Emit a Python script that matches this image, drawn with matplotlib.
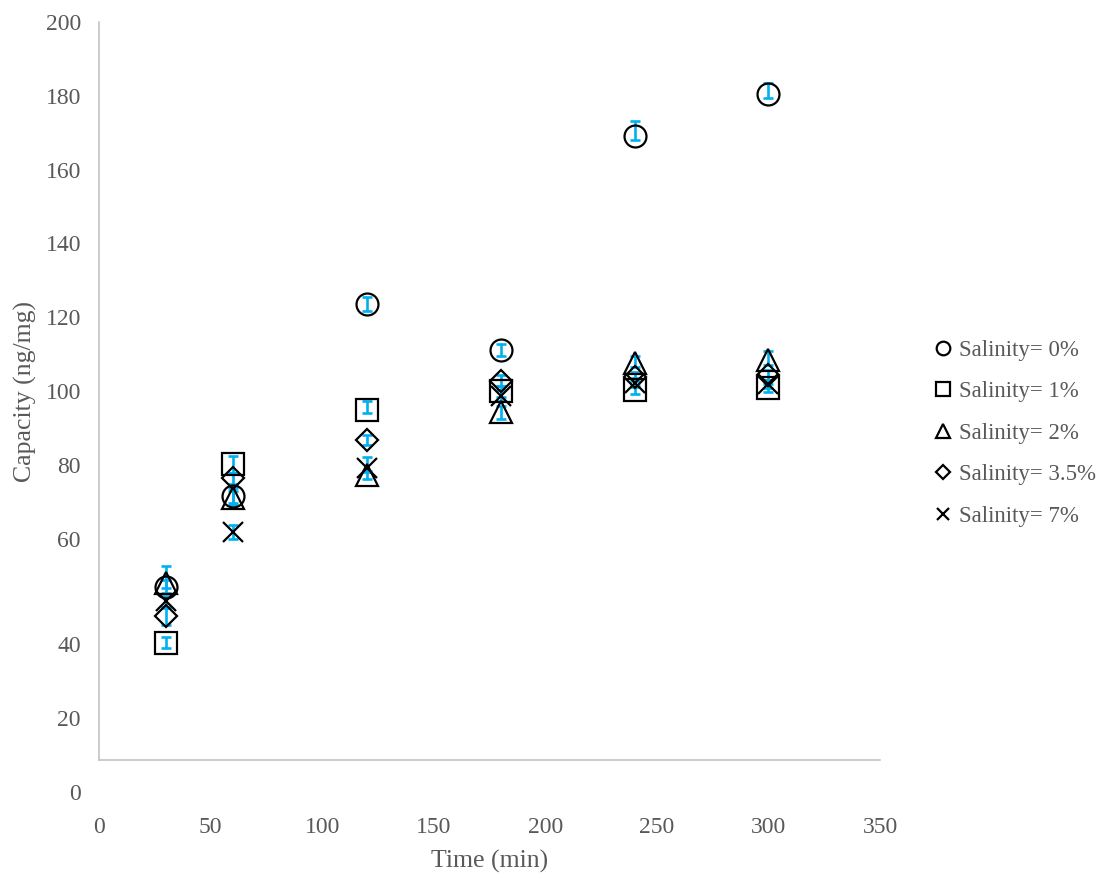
import numpy as np
import matplotlib
matplotlib.use('Agg')
import matplotlib.pyplot as plt
from matplotlib.transforms import ScaledTranslation, blended_transform_factory

# adsorption capacity vs contact time at several salinities
time = [30, 60, 120, 180, 240, 300]

cap_0 = [47.0, 71.6, 123.6, 111.1, 169.0, 180.4]
cap_1 = [31.8, 80.1, 94.9, 99.9, 100.4, 100.7]
cap_2 = [48.1, 71.0, 77.2, 94.2, 107.7, 108.3]
cap_35 = [38.9, 76.3, 86.7, 102.8, 103.9, 104.3]
cap_7 = [43.0, 61.8, 79.1, 98.7, 102.2, 101.9]

# error bars: (below, above)
err_0 = ([1.8, 2.0, 1.8, 1.6, 1.0, 1.1], [1.8, 2.0, 1.8, 1.6, 4.2, 3.1])
err_1 = ([1.4, 2.4, 0.9, 1.5, 1.2, 0.9], [1.4, 2.4, 2.4, 1.5, 1.2, 1.2])
err_2 = ([1.5, 2.0, 1.0, 1.8, 1.3, 1.3], [4.6, 2.0, 1.0, 1.8, 1.8, 2.5])
err_35 = ([2.2, 1.5, 1.3, 1.5, 1.3, 1.3], [2.2, 1.5, 1.3, 1.5, 1.3, 1.3])
err_7 = ([1.5, 1.9, 1.0, 1.5, 1.2, 1.2], [1.5, 1.9, 3.1, 1.5, 1.2, 1.2])

labels = ['Salinity= 0%', 'Salinity= 1%', 'Salinity= 2%',
          'Salinity= 3.5%', 'Salinity= 7%']
y_ticks = [60, 80, 100, 120, 140, 160, 180, 200]
low_ticks = [40, 20, 0]
x_ticks = [0, 50, 100, 150, 200, 250, 300, 350]

series = [cap_0, cap_1, cap_2, cap_35, cap_7]
errors = [err_0, err_1, err_2, err_35, err_7]
markers = ['o', 's', '^', 'D', 'x']
sizes = [15.8, 15.8, 15.8, 11.2, 15.0]

grey = '#595959'
axis_grey = '#BFBFBF'
plt.rcParams['font.family'] = ['Liberation Serif', 'DejaVu Serif']

fig = plt.figure(figsize=(11, 8.75), dpi=100)
ax = fig.add_axes([99 / 1100, 115 / 875, 781 / 1100, 738 / 875])

for ys, err in zip(series, errors):
    ax.errorbar(time, ys, yerr=np.array(err), fmt='none', ecolor='#00B0F0',
                elinewidth=1.9, capsize=3.6, capthick=1.9, zorder=2)

for ys, m, ms, lab in zip(series, markers, sizes, labels):
    ax.plot(time, ys, linestyle='none', marker=m, markersize=ms,
            markerfacecolor='none', markeredgecolor='black',
            markeredgewidth=1.6, color='black', label=lab, zorder=3)

ax.set_xlim(0, 350)
ax.set_ylim(0, 200)
ax.set_xticks(x_ticks)
ax.set_yticks(y_ticks)
ax.tick_params(axis='both', length=0, labelsize=17, labelcolor=grey)
ax.tick_params(axis='x', pad=41)
ax.tick_params(axis='y', pad=13)

# the lower value labels sit a little below their gridline
shift = ScaledTranslation(-18 / 100, -34 / 100, fig.dpi_scale_trans)
ytrans = blended_transform_factory(ax.transAxes, ax.transData) + shift
for v in low_ticks:
    ax.text(0, v, str(v), transform=ytrans, ha='right', va='center',
            fontsize=17, color=grey, clip_on=False)

for side in ['top', 'right']:
    ax.spines[side].set_visible(False)
for side in ['left', 'bottom']:
    ax.spines[side].set_color(axis_grey)
    ax.spines[side].set_linewidth(1.1)

ax.set_xlabel('Time (min)', fontsize=18.5, color=grey)
ax.xaxis.set_label_coords(0.5, -0.122)
ax.set_ylabel('Capacity (ng/mg)', fontsize=18.5, color=grey)
ax.yaxis.set_label_coords(-0.08, 0.5)

leg = ax.legend(loc='upper left', bbox_to_anchor=(934 / 1100, 1 - 340 / 875),
                bbox_transform=fig.transFigure, frameon=False, fontsize=16.5,
                markerscale=0.62, handlelength=0.8, handletextpad=0.3,
                labelspacing=0.89, borderpad=0, borderaxespad=0)
for t in leg.get_texts():
    t.set_color(grey)

fig.savefig('out.png', dpi=100)
